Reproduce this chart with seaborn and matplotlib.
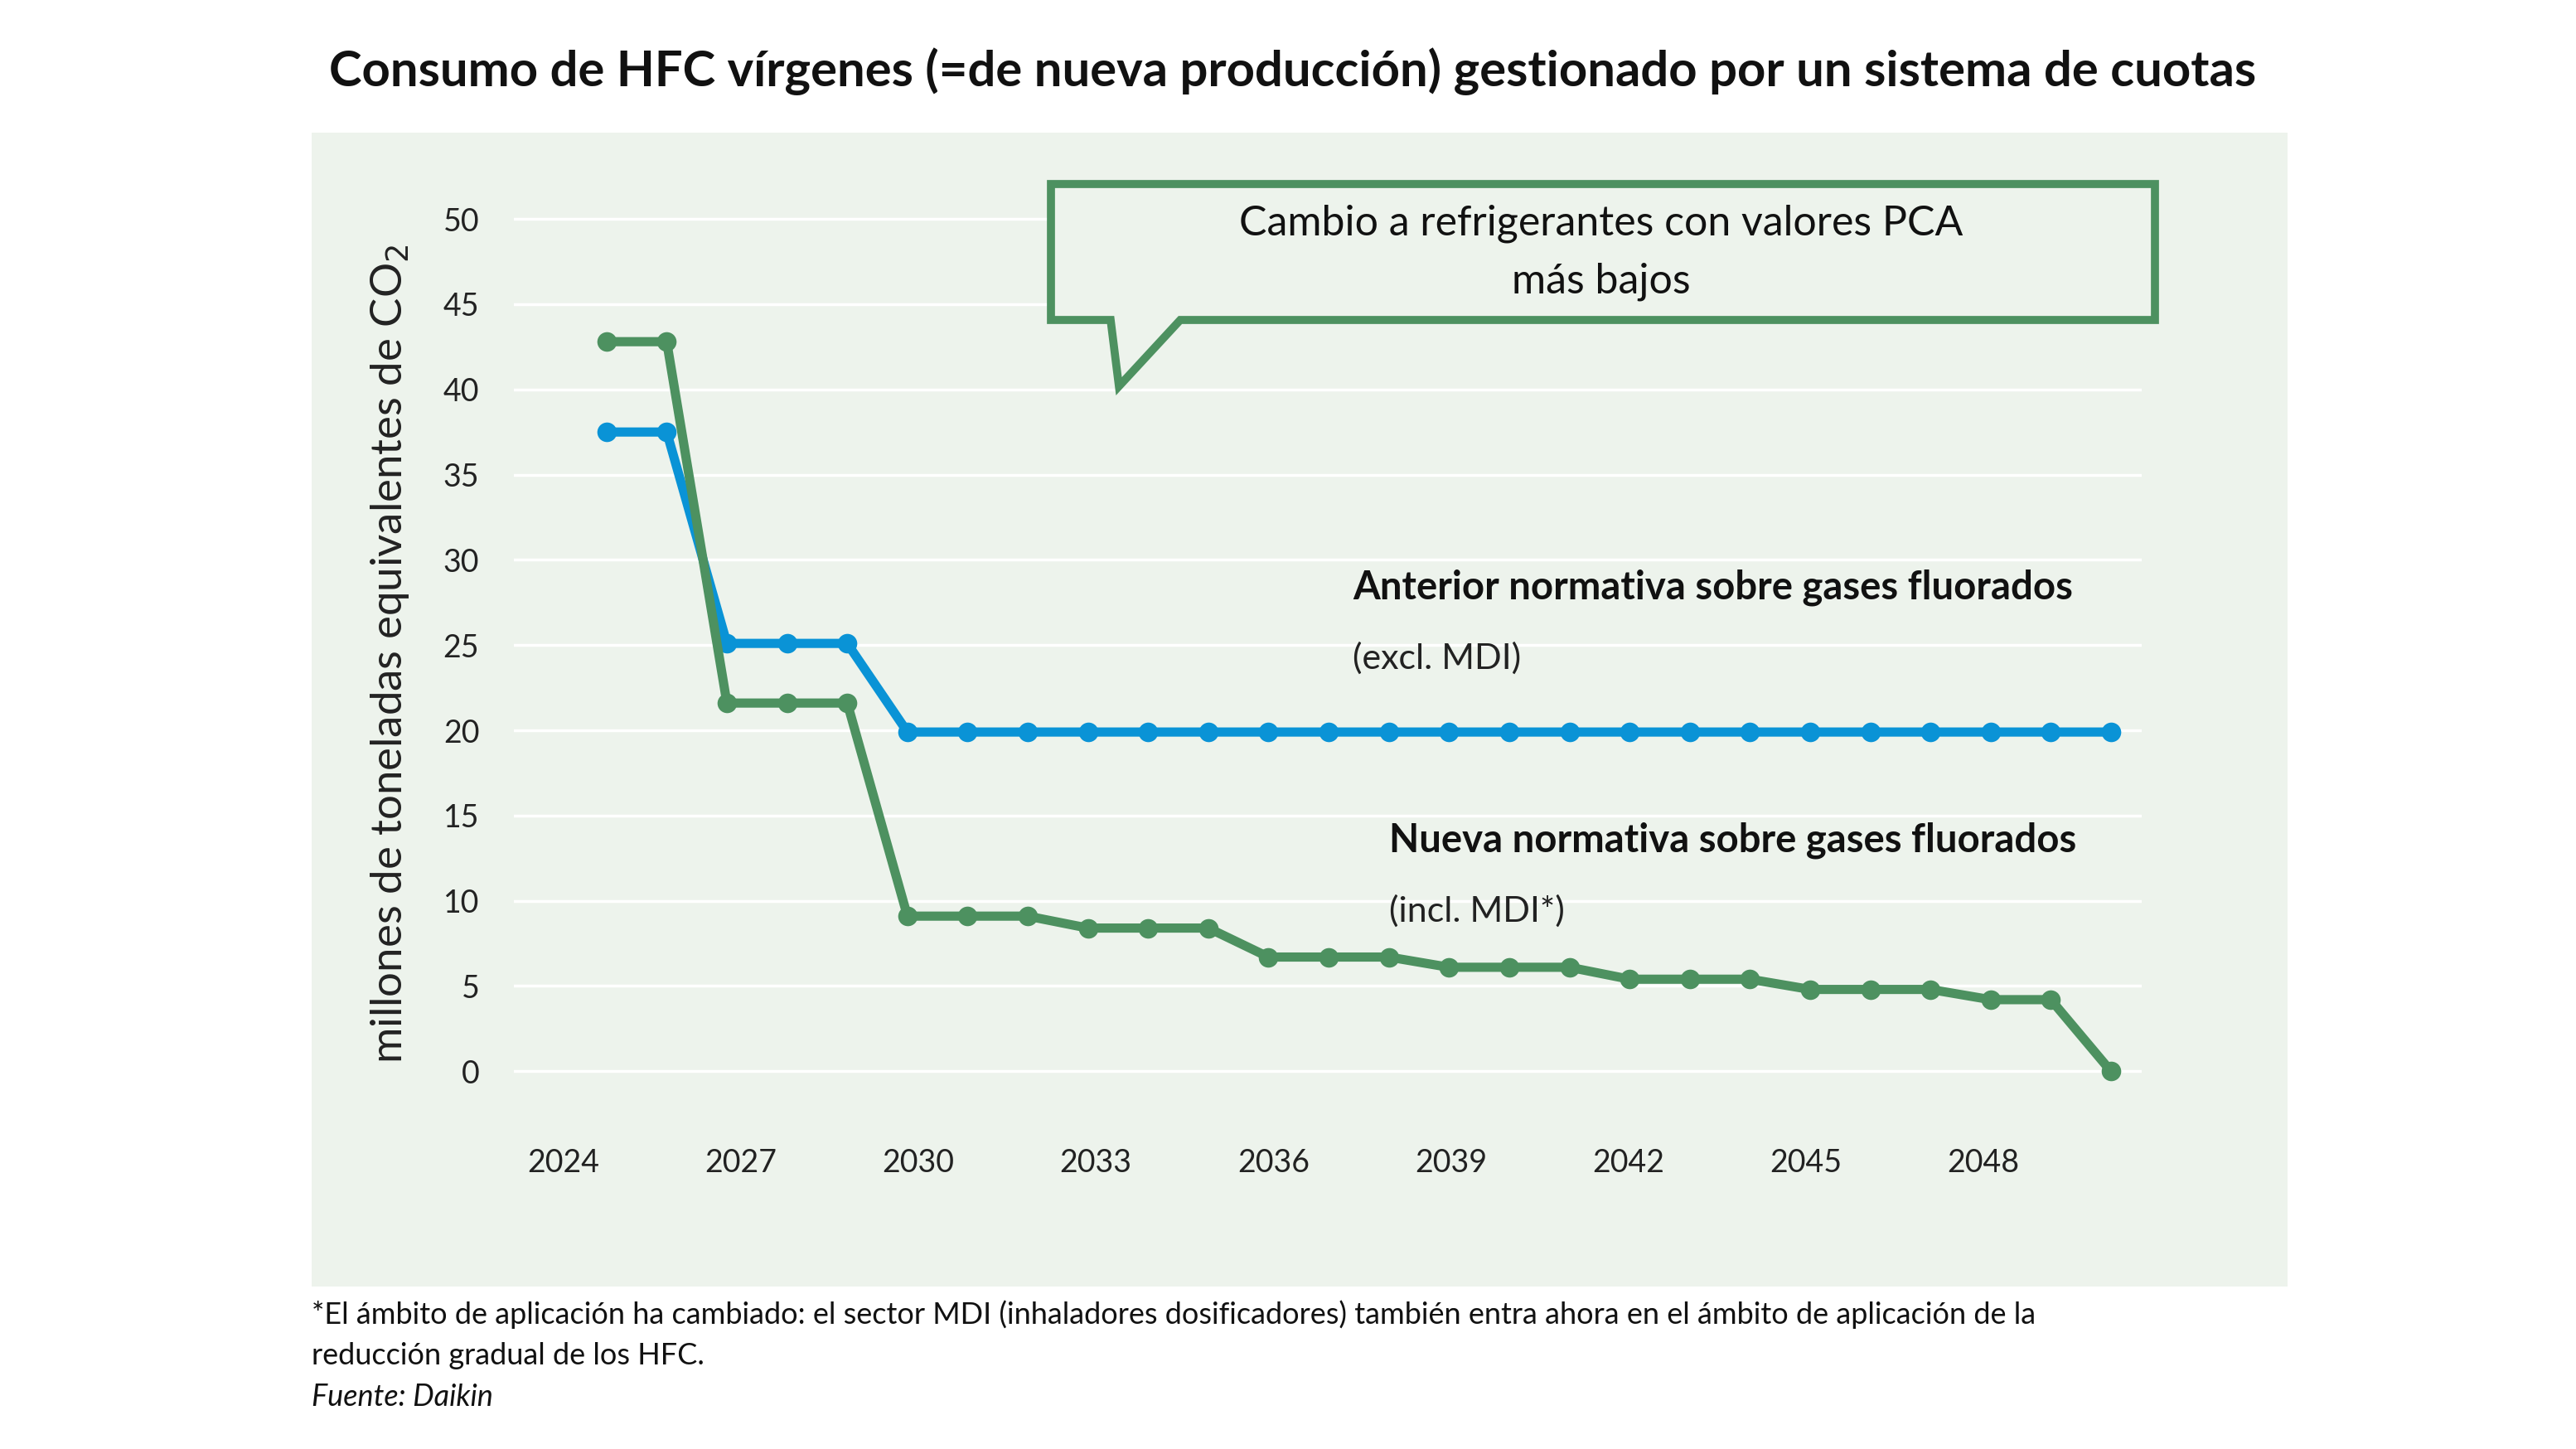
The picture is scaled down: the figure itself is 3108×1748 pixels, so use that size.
import matplotlib
matplotlib.use("Agg")
import matplotlib.pyplot as plt
import seaborn as sns
import pandas as pd
import numpy as np
from matplotlib.patches import Polygon, Rectangle

years = list(range(2025, 2051))
anterior = [37.5, 37.5, 25.1, 25.1, 25.1] + [19.9] * 21
nueva = [42.8, 42.8, 21.6, 21.6, 21.6, 9.1, 9.1, 9.1, 8.4, 8.4, 8.4, 6.7, 6.7, 6.7,
         6.1, 6.1, 6.1, 5.4, 5.4, 5.4, 4.8, 4.8, 4.8, 4.2, 4.2, 0.0]
tick_labels = ["2024", "2027", "2030", "2033", "2036", "2039", "2042", "2045", "2048"]
yticks = [0, 5, 10, 15, 20, 25, 30, 35, 40, 45, 50]

BLUE = "#0A93D6"
GREEN = "#4D9160"
BG = "#EDF3EC"
W, H = 3108, 1748
FONT = "Lato"

df = pd.DataFrame({"year": years * 2, "val": anterior + nueva,
                   "serie": ["Anterior"] * len(years) + ["Nueva"] * len(years)})

fig = plt.figure(figsize=(W / 100, H / 100), dpi=100)
fig.patch.set_facecolor("white")
def fx(x): return x / W
def fy(y): return 1 - y / H
fig.patches.append(Rectangle((fx(376), fy(1552)), fx(2760) - fx(376), fy(160) - fy(1552),
                             transform=fig.transFigure, facecolor=BG, edgecolor="none", zorder=-5))

ax = fig.add_axes([fx(620), fy(1354), fx(2584) - fx(620), fy(223) - fy(1354)])
ax.set_zorder(1)
ax.set_facecolor("none")
sns.lineplot(data=df, x="year", y="val", hue="serie", palette={"Anterior": BLUE, "Nueva": GREEN},
             marker="o", markersize=17, linewidth=8, markeredgewidth=0, legend=False, ax=ax)
ax.set_xlim(2023.46, 2050.51)
ax.set_ylim(-3, 52)
ax.set_yticks(yticks)
ax.set_yticklabels([str(v) for v in yticks], fontsize=27, family=FONT, color="#222")
ticks = [2024.28 + 2.95 * k for k in range(len(tick_labels))]
ax.set_xticks(ticks)
ax.set_xticklabels(tick_labels, fontsize=27, family=FONT, color="#222")
ax.tick_params(length=0, pad=22)
ax.tick_params(axis="y", pad=30)
ax.grid(axis="y", color="white", linewidth=2.5)
ax.grid(axis="x", visible=False)
for s in ax.spines.values():
    s.set_visible(False)
ax.set_xlabel("")
ax.set_ylabel("millones de toneladas equivalentes de CO$_2$", fontsize=38, family=FONT, color="#222", labelpad=28)

ax.text(2037.4, 27.7, "Anterior normativa sobre gases fluorados", fontsize=34, weight="bold", family=FONT, color="#111")
ax.text(2037.4, 23.6, "(excl. MDI)", fontsize=31, family=FONT, color="#222")
ax.text(2038.0, 12.9, "Nueva normativa sobre gases fluorados", fontsize=34, weight="bold", family=FONT, color="#111")
ax.text(2038.0, 8.8, "(incl. MDI*)", fontsize=31, family=FONT, color="#222")

pts = [(1268, 222), (2600, 222), (2600, 386), (1424, 386), (1350, 466), (1340, 386), (1268, 386)]
fig.patches.append(Polygon([(fx(x), fy(y)) for x, y in pts], closed=True, transform=fig.transFigure,
                           facecolor=BG, edgecolor=GREEN, linewidth=7, zorder=5))
fig.text(fx(1932), fy(270), "Cambio a refrigerantes con valores PCA", ha="center", va="center",
         fontsize=36, family=FONT, color="#111", zorder=6)
fig.text(fx(1932), fy(340), "más bajos", ha="center", va="center", fontsize=36, family=FONT, color="#111", zorder=6)

fig.text(fx(1560), fy(86), "Consumo de HFC vírgenes (=de nueva producción) gestionado por un sistema de cuotas",
         ha="center", va="center", fontsize=43, weight="bold", family=FONT, color="#111")
fig.text(fx(376), fy(1586), "*El ámbito de aplicación ha cambiado: el sector MDI (inhaladores dosificadores) también entra ahora en el ámbito de aplicación de la",
         va="center", fontsize=26, family=FONT, color="#111")
fig.text(fx(376), fy(1636), "reducción gradual de los HFC.", va="center", fontsize=26, family=FONT, color="#111")
fig.text(fx(376), fy(1686), "Fuente: Daikin", va="center", fontsize=26, style="italic", family=FONT, color="#111")

fig.savefig("out.png", dpi=100)
